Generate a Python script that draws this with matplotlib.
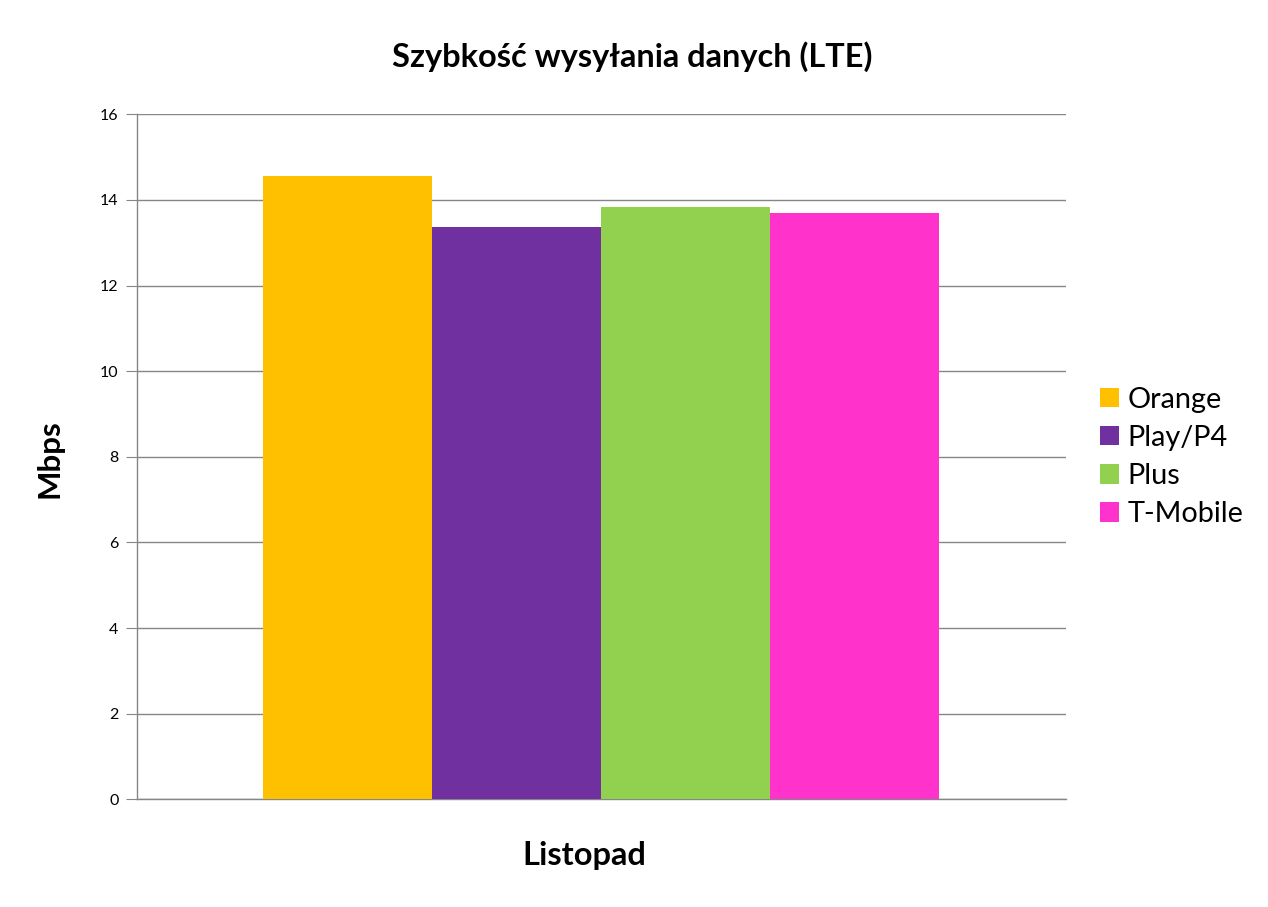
import matplotlib
matplotlib.use("Agg")
import matplotlib.pyplot as plt

operators = ["Orange", "Play/P4", "Plus", "T-Mobile"]
values = [14.55, 13.37, 13.84, 13.70]
colors = ["#FFC000", "#7030A0", "#92D050", "#FF33CC"]
category = "Listopad"
yticks = [0, 2, 4, 6, 8, 10, 12, 14, 16]

FONT = "Lato"
plt.rcParams['font.family'] = [FONT, 'DejaVu Sans']

fig = plt.figure(figsize=(12.68, 9.07), dpi=100)
ax = fig.add_axes([136.7/1268, 1-799.3/907, (1066-136.7)/1268, (799.3-114.3)/907])

n = len(operators)
group = 1/1.375
w = group / n
for i, (op, v, c) in enumerate(zip(operators, values, colors)):
    x = -group/2 + w*(i+0.5)
    ax.bar(x, v, width=w, color=c, label=op, zorder=3, linewidth=0)

ax.set_xlim(-0.5, 0.5)
ax.set_ylim(0, 16)
ax.set_yticks(yticks)
ax.set_yticklabels([str(t) for t in yticks], fontsize=11.5, family=[FONT, 'DejaVu Sans'])
ax.set_xticks([])
ax.grid(axis='y', color='#868686', linewidth=1, zorder=0)
for s in ['top', 'right']:
    ax.spines[s].set_visible(False)
ax.spines['left'].set_color('#868686')
ax.spines['bottom'].set_color('#868686')
ax.spines['left'].set_linewidth(1)
ax.spines['bottom'].set_linewidth(1)
ax.tick_params(axis='y', length=8, color='#868686', pad=5)

fig.text(632/1268, 1-57/907, "Szybkość wysyłania danych (LTE)", ha='center', va='center',
         fontsize=23.4, fontweight='bold')
fig.text(50/1268, 1-459/907, "Mbps", ha='center', va='center', rotation=90,
         fontsize=22.5, fontweight='bold')
fig.text(584/1268, 1-855/907, category, ha='center', va='center',
         fontsize=23.5, fontweight='bold')

leg = fig.legend(loc='center left', bbox_to_anchor=(1100/1268, 1-457/907), frameon=False,
                 fontsize=20.8, handlelength=0.65, handleheight=0.65, handletextpad=0.3,
                 labelspacing=0.42, borderaxespad=0, borderpad=0)

fig.savefig("out.png", dpi=100)
